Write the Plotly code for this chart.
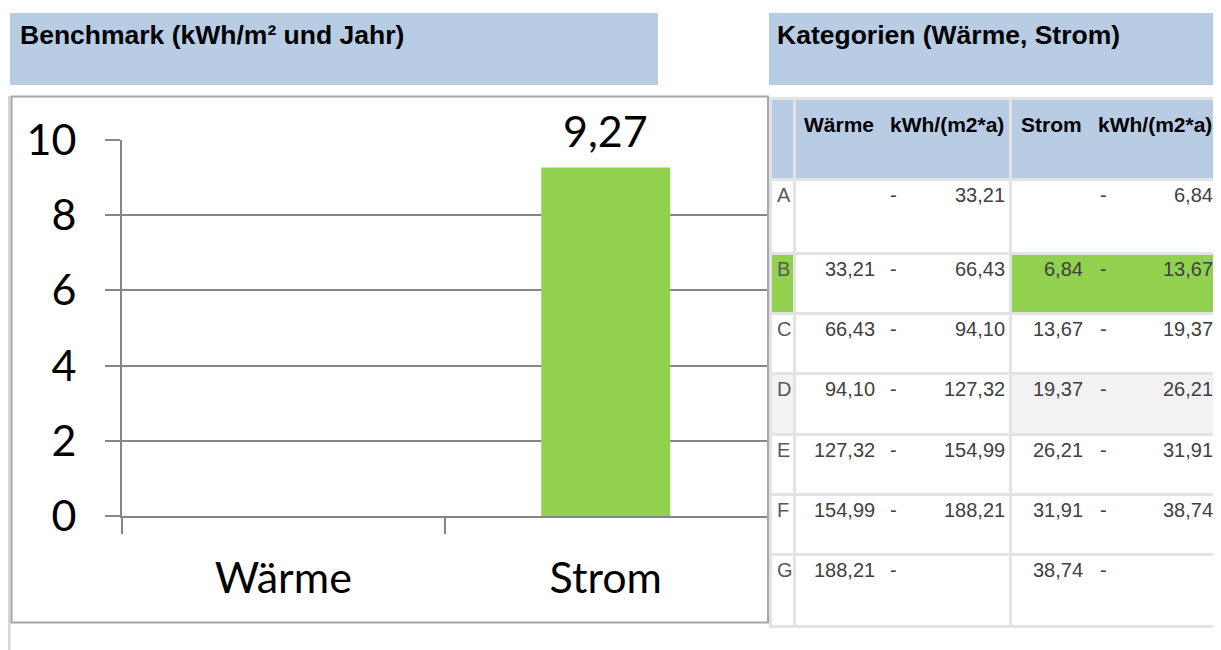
import plotly.graph_objects as go

# ---------------- data ----------------
categories = ["Wärme", "Strom"]
values = [None, 9.27]
y_ticks = [0, 2, 4, 6, 8, 10]

class_letters = ["A", "B", "C", "D", "E", "F", "G"]
waerme_lo = [None, 33.21, 66.43, 94.10, 127.32, 154.99, 188.21]
waerme_hi = [33.21, 66.43, 94.10, 127.32, 154.99, 188.21, None]
strom_lo = [None, 6.84, 13.67, 19.37, 26.21, 31.91, 38.74]
strom_hi = [6.84, 13.67, 19.37, 26.21, 31.91, 38.74, None]
current_class = "B"

title_left = "Benchmark (kWh/m² und Jahr)"
title_right = "Kategorien (Wärme, Strom)"
header_cols = [("Wärme", "kWh/(m2*a)"), ("Strom", "kWh/(m2*a)")]

# ---------------- geometry helpers ----------------
OFF = 8  # page body margin
W, H = 1221 - OFF, 650 - OFF
def px(x):
    return (x - OFF) / W
def py(y):
    return 1 - (y - OFF) / H

def fmt(v):
    return "" if v is None else f"{v:.2f}".replace(".", ",")

GREEN = "#92d050"
BLUE = "#b8cce4"
AXIS = "#868686"
CHART_FONT = "Lato"
TABLE_FONT = "Liberation Sans"

fig = go.Figure()
fig.add_trace(go.Bar(
    x=categories, y=values, marker=dict(color=GREEN, line=dict(width=0)),
    width=0.4, showlegend=False, hoverinfo="skip",
))

shapes = []
annotations = []

# bar value labels
for c, v in zip(categories, values):
    if v is not None:
        annotations.append(dict(x=c, y=v, xref="x", yref="y", text=fmt(v),
                                showarrow=False, yanchor="bottom", yshift=9,
                                font=dict(family=CHART_FONT, size=43, color="black")))

# title boxes
shapes.append(dict(type="rect", xref="paper", yref="paper", x0=px(10), x1=px(658),
                   y0=py(85), y1=py(13), fillcolor=BLUE, line=dict(width=0), layer="below"))
shapes.append(dict(type="rect", xref="paper", yref="paper", x0=px(769), x1=px(1221),
                   y0=py(85), y1=py(13), fillcolor=BLUE, line=dict(width=0), layer="below"))
annotations.append(dict(x=px(18), y=py(35), xref="paper", yref="paper", text=f"<b>{title_left}</b>",
                        showarrow=False, xanchor="left", yanchor="middle",
                        font=dict(family=TABLE_FONT, size=26.5, color="black")))
annotations.append(dict(x=px(775), y=py(35), xref="paper", yref="paper", text=f"<b>{title_right}</b>",
                        showarrow=False, xanchor="left", yanchor="middle",
                        font=dict(family=TABLE_FONT, size=26.5, color="black")))

# chart frame
shapes.append(dict(type="line", xref="paper", yref="paper", x0=px(9), x1=px(9), y0=py(96), y1=py(650),
                   line=dict(color="#d6d6d6", width=3), layer="below"))
shapes.append(dict(type="rect", xref="paper", yref="paper", x0=px(11.5), x1=px(768), y0=py(622.5), y1=py(96.5),
                   line=dict(color="#a6a6a6", width=2), layer="below"))

# table
col_x = [(772, 793), (796, 1009), (1012, 1217)]
header_y = (100, 178)
row_y = [(181, 252), (255, 312), (315, 372), (375, 433), (436, 493), (496, 553), (556, 625)]
shapes.append(dict(type="rect", xref="paper", yref="paper", x0=px(769), x1=px(1220), y0=py(628), y1=py(97),
                   fillcolor="#e3e3e3", line=dict(width=0), layer="below"))
for (x0, x1) in col_x:
    shapes.append(dict(type="rect", xref="paper", yref="paper", x0=px(x0), x1=px(x1),
                       y0=py(header_y[1]), y1=py(header_y[0]), fillcolor=BLUE, line=dict(width=0), layer="below"))
for i, letter in enumerate(class_letters):
    y0, y1 = row_y[i]
    fills = ["white", "white", "white"]
    if letter == "D":
        fills = ["#f2f2f2", "white", "#f2f2f2"]
    if letter == current_class:
        fills = [GREEN, "white", GREEN]
    for (x0, x1), f in zip(col_x, fills):
        shapes.append(dict(type="rect", xref="paper", yref="paper", x0=px(x0), x1=px(x1),
                           y0=py(y1), y1=py(y0), fillcolor=f, line=dict(width=0), layer="below"))
    ty = py(y0 + 13.5)
    tf = dict(family=TABLE_FONT, size=20, color="#404040")
    annotations.append(dict(x=px(775), y=ty, xref="paper", yref="paper", text=letter, showarrow=False,
                            xanchor="left", yanchor="middle",
                            font=dict(family=TABLE_FONT, size=20, color="#595959")))
    for lo, hi, xr_lo, xd, xr_hi in [(waerme_lo[i], waerme_hi[i], 877, 893, 1007),
                                      (strom_lo[i], strom_hi[i], 1085, 1103, 1215)]:
        if lo is not None:
            annotations.append(dict(x=px(xr_lo), y=ty, xref="paper", yref="paper", text=fmt(lo),
                                    showarrow=False, xanchor="right", yanchor="middle", font=tf))
        annotations.append(dict(x=px(xd), y=ty, xref="paper", yref="paper", text="-",
                                showarrow=False, xanchor="center", yanchor="middle", font=tf))
        if hi is not None:
            annotations.append(dict(x=px(xr_hi), y=ty, xref="paper", yref="paper", text=fmt(hi),
                                    showarrow=False, xanchor="right", yanchor="middle", font=tf))

hf = dict(family=TABLE_FONT, size=21, color="black")
for (name, unit), xn, xu in zip(header_cols, [802, 1019], [888, 1096]):
    annotations.append(dict(x=px(xn), y=py(125), xref="paper", yref="paper", text=f"<b>{name}</b>",
                            showarrow=False, xanchor="left", yanchor="middle", font=hf))
    annotations.append(dict(x=px(xu), y=py(125), xref="paper", yref="paper", text=f"<b>{unit}</b>",
                            showarrow=False, xanchor="left", yanchor="middle", font=hf))

fig.update_layout(
    width=W, height=H, margin=dict(l=0, r=0, t=0, b=0, pad=0, autoexpand=False),
    paper_bgcolor="white", plot_bgcolor="white",
    separators=",.",
    shapes=shapes, annotations=annotations,
    xaxis=dict(domain=[px(122), px(767)], range=[-0.5, 1.5], type="category",
               showline=True, linecolor=AXIS, linewidth=2, automargin=False,
               ticks="outside", tickson="boundaries", ticklen=16, tickwidth=2, tickcolor=AXIS,
               showgrid=False, ticklabelstandoff=23,
               tickfont=dict(family=CHART_FONT, size=43, color="black")),
    yaxis=dict(domain=[py(516), py(140)], range=[0, 10], tickvals=y_ticks,
               showline=True, linecolor=AXIS, linewidth=2, automargin=False,
               showgrid=True, gridcolor=AXIS, gridwidth=1.5, zeroline=False,
               ticks="outside", ticklen=15, tickwidth=2, tickcolor=AXIS,
               ticklabelstandoff=20,
               tickfont=dict(family=CHART_FONT, size=43, color="black")),
    bargap=0.6,
)

fig.write_html("out.html")
